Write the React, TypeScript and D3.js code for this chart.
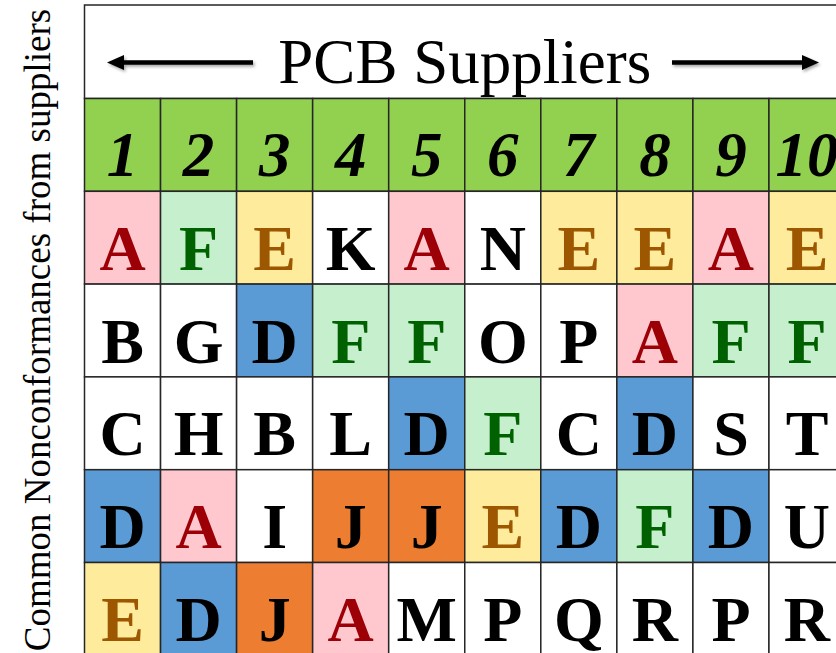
import React from "react";
import * as d3 from "d3";

const suppliers = ["1", "2", "3", "4", "5", "6", "7", "8", "9", "10"];
const rowIds = ["r1", "r2", "r3", "r4", "r5"];
const row1 = ["A", "F", "E", "K", "A", "N", "E", "E", "A", "E"];
const row2 = ["B", "G", "D", "F", "F", "O", "P", "A", "F", "F"];
const row3 = ["C", "H", "B", "L", "D", "F", "C", "D", "S", "T"];
const row4 = ["D", "A", "I", "J", "J", "E", "D", "F", "D", "U"];
const row5 = ["E", "D", "J", "A", "M", "P", "Q", "R", "P", "R"];
const rows = [row1, row2, row3, row4, row5];
const title = "PCB Suppliers";
const yTitle = "Common Nonconformances from suppliers";

const fillByLetter: Record<string, string> = {
  A: "#FFC7CE",
  D: "#5B9BD5",
  E: "#FFEB9C",
  F: "#C6EFCE",
  J: "#ED7D31",
};
const textByLetter: Record<string, string> = {
  A: "#9C0006",
  E: "#9C5700",
  F: "#006100",
};

const W = 836;
const H = 653;
const left = 84.5;
const colW = 76.05;
const top = 5;
const headerH = 93.5;
const rowH = 92.8;

export default function App() {
  const x = d3
    .scaleBand<string>()
    .domain(suppliers)
    .range([left, left + colW * suppliers.length]);
  const yRow = d3
    .scaleBand<string>()
    .domain(["head", ...rowIds])
    .range([top + headerH, top + headerH + rowH * (rowIds.length + 1)]);
  const right = left + colW * suppliers.length;
  const serif = "'Liberation Serif', 'Times New Roman', serif";
  const lineCol = "#262626";
  const arrowY = 62.5;
  const cx = (left + right) / 2;

  return (
    <div style={{ position: "absolute", left: 0, top: 0 }}>
      <svg width={W} height={H} style={{ display: "block" }}>
        <defs>
          <filter id="sh" x="-20%" y="-100%" width="140%" height="300%">
            <feDropShadow dx="1.5" dy="2" stdDeviation="1.8" floodColor="#000" floodOpacity="0.35" />
          </filter>
        </defs>
        <rect x={0} y={0} width={W} height={H} fill="#fff" />
        {/* y title */}
        <text
          transform={`translate(50,${330}) rotate(-90)`}
          textAnchor="middle"
          fontFamily={serif}
          fontSize={37}
          fill="#000"
        >
          {yTitle}
        </text>
        {/* header box */}
        <rect x={left} y={top} width={right - left} height={headerH} fill="#fff" stroke={lineCol} strokeWidth={1.5} />
        <text x={cx} y={83} textAnchor="middle" fontFamily={serif} fontSize={63} fill="#000">
          {title}
        </text>
        <g filter="url(#sh)">
          <line x1={122} x2={253} y1={arrowY} y2={arrowY} stroke="#000" strokeWidth={4.5} />
          <path d={`M107,${arrowY} L124,${arrowY - 7.5} L124,${arrowY + 7.5} Z`} fill="#000" />
          <line x1={672} x2={804} y1={arrowY} y2={arrowY} stroke="#000" strokeWidth={4.5} />
          <path d={`M819,${arrowY} L802,${arrowY - 7.5} L802,${arrowY + 7.5} Z`} fill="#000" />
        </g>
        {/* supplier header row */}
        {suppliers.map((s) => (
          <g key={"h" + s}>
            <rect
              x={x(s)}
              y={yRow("head")}
              width={x.bandwidth()}
              height={yRow.bandwidth()}
              fill="#92D050"
              stroke={lineCol}
              strokeWidth={1.5}
            />
            <text
              x={(x(s) as number) + x.bandwidth() / 2}
              y={(yRow("head") as number) + yRow.bandwidth() / 2 + 31}
              textAnchor="middle"
              fontFamily={serif}
              fontSize={63}
              fontWeight="bold"
              fontStyle="italic"
              fill="#000"
            >
              {s}
            </text>
          </g>
        ))}
        {/* cells */}
        {rows.map((r, ri) =>
          r.map((letter, ci) => {
            const s = suppliers[ci];
            const y0 = yRow(rowIds[ri]) as number;
            return (
              <g key={ri + "-" + ci}>
                <rect
                  x={x(s)}
                  y={y0}
                  width={x.bandwidth()}
                  height={yRow.bandwidth()}
                  fill={fillByLetter[letter] || "#fff"}
                  stroke={lineCol}
                  strokeWidth={1.5}
                />
                <text
                  x={(x(s) as number) + x.bandwidth() / 2}
                  y={y0 + yRow.bandwidth() / 2 + 32}
                  textAnchor="middle"
                  fontFamily={serif}
                  fontSize={64}
                  fontWeight="bold"
                  fill={textByLetter[letter] || "#000"}
                >
                  {letter}
                </text>
              </g>
            );
          })
        )}
      </svg>
    </div>
  );
}
